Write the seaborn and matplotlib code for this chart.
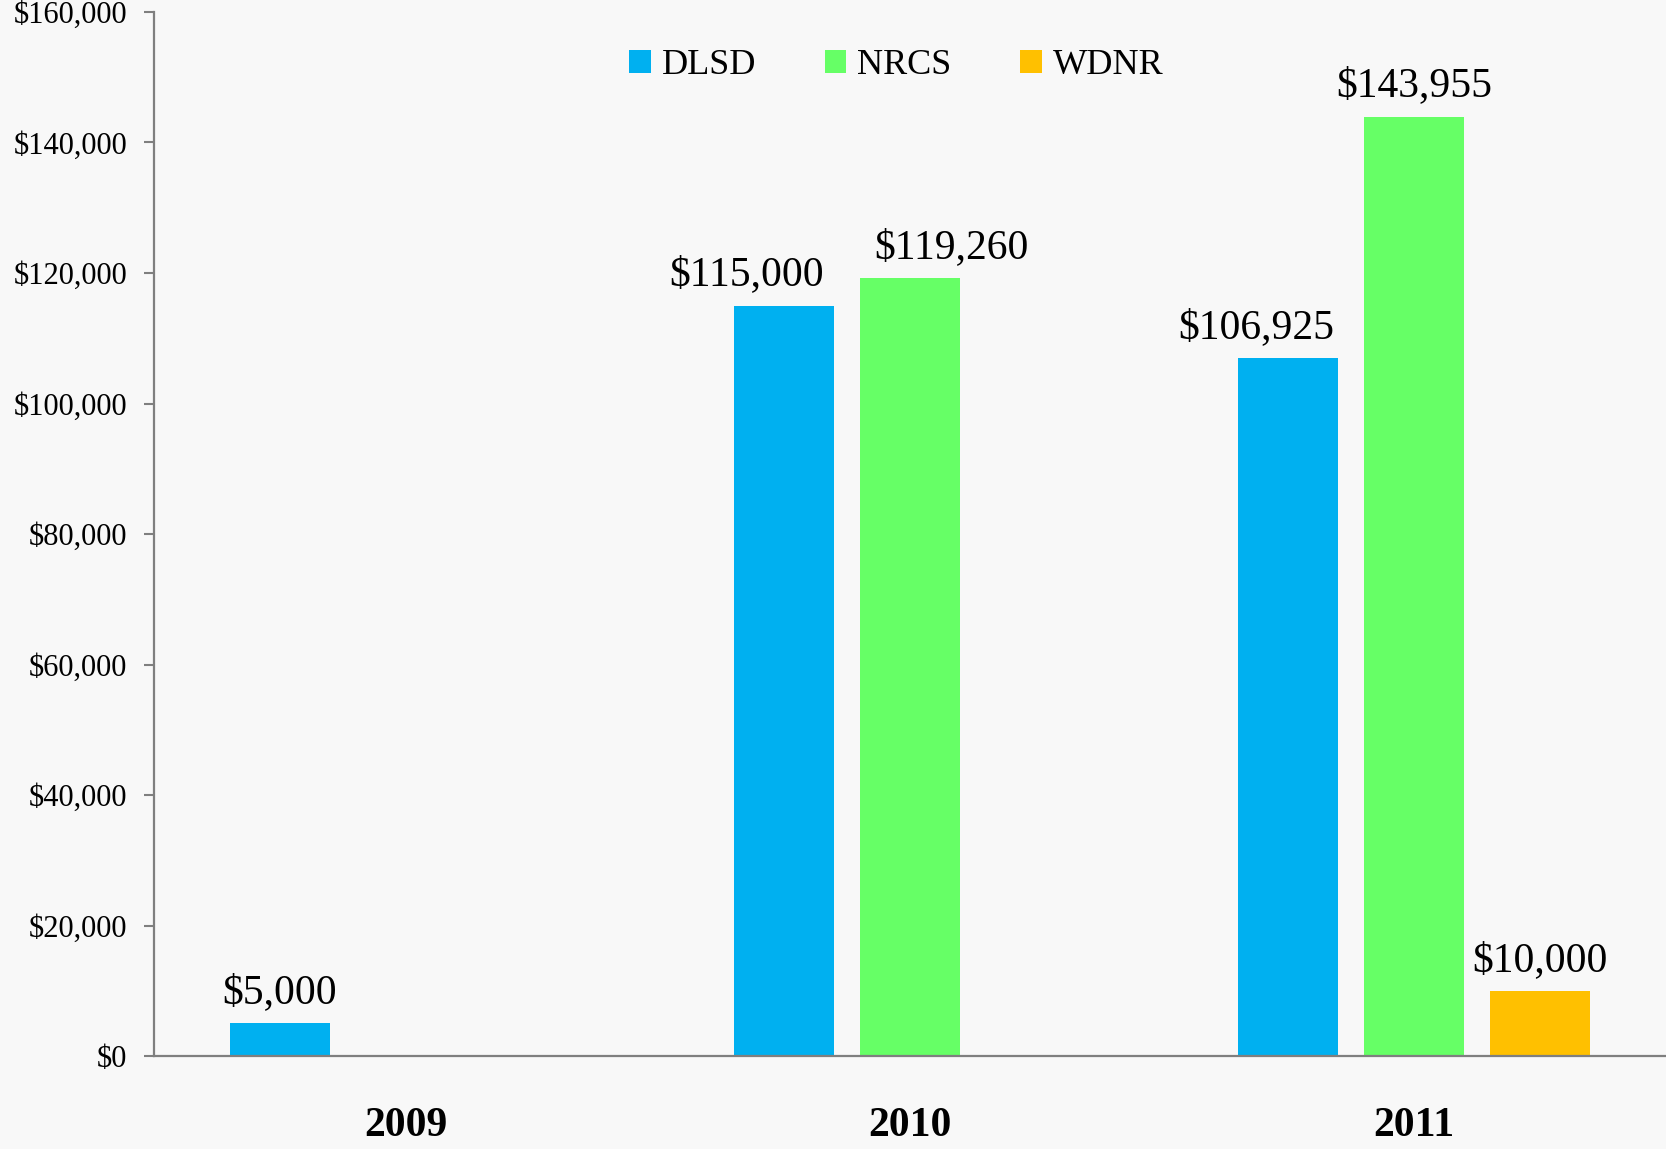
import matplotlib
matplotlib.use("Agg")
import matplotlib.pyplot as plt
from matplotlib.ticker import FuncFormatter
import pandas as pd
import seaborn as sns

# valores
years = ["2009", "2010", "2011"]
agencies = ["DLSD", "NRCS", "WDNR"]
dlsd = [5000, 115000, 106925]
nrcs = [None, 119260, 143955]
wdnr = [None, None, 10000]
colors = {"DLSD": "#00B0F0", "NRCS": "#66FF66", "WDNR": "#FFC000"}

# corrimiento horizontal de etiquetas que se pisan (en puntos)
nudge = {("DLSD", "2010"): -27, ("NRCS", "2010"): 30, ("DLSD", "2011"): -23}

rows = []
for ag, vals in zip(agencies, [dlsd, nrcs, wdnr]):
    for yr, v in zip(years, vals):
        if v is not None:
            rows.append({"year": yr, "agency": ag, "amount": v})
df = pd.DataFrame(rows)

sns.set_style("white")
plt.rcParams["font.family"] = ["Liberation Serif", "DejaVu Serif"]
plt.rcParams["text.color"] = "black"
plt.rcParams["xtick.color"] = "black"
plt.rcParams["ytick.color"] = "black"

fig = plt.figure(figsize=(16.66, 11.49), dpi=100, facecolor="#f8f8f8")
ax = fig.add_axes([154 / 1666, 1 - 1056 / 1149, 1 - 154 / 1666, (1056 - 12) / 1149])
ax.set_facecolor("#f8f8f8")

sns.barplot(data=df, x="year", y="amount", hue="agency", order=years,
            hue_order=agencies, palette=colors, width=0.75, gap=0.2,
            errorbar=None, saturation=1, edgecolor="none", ax=ax)

for cont, ag in zip(ax.containers, agencies):
    for b in cont:
        h = b.get_height()
        if not h or h != h:
            continue
        yr = years[int(round(b.get_x() + b.get_width() / 2))]
        ax.annotate("${:,.0f}".format(h), (b.get_x() + b.get_width() / 2, h),
                    xytext=(nudge.get((ag, yr), 0), 8), textcoords="offset points",
                    ha="center", va="bottom", fontsize=30, color="black")

ax.set_xlim(-0.5, 2.5)
ax.set_ylim(0, 160000)
ax.set_yticks(range(0, 160001, 20000))
ax.yaxis.set_major_formatter(FuncFormatter(lambda v, p: "${:,.0f}".format(v)))
ax.set_xlabel("")
ax.set_ylabel("")

sns.despine(ax=ax)
for s in ["left", "bottom"]:
    ax.spines[s].set_color("#7f7f7f")
    ax.spines[s].set_linewidth(1.6)
ax.tick_params(axis="y", left=True, length=7, width=1.5, color="#7f7f7f",
               labelcolor="black", labelsize=22, pad=12)
ax.tick_params(axis="x", bottom=False, labelcolor="black", labelsize=30, pad=33)
for t in ax.get_xticklabels():
    t.set_fontweight("bold")

handles, labels = ax.get_legend_handles_labels()
ax.legend(handles, labels, loc="center", bbox_to_anchor=(896 / 1666, 1 - 66 / 1149),
          bbox_transform=fig.transFigure, ncol=3, frameon=False, fontsize=26,
          handlelength=0.6, handleheight=0.6, handletextpad=0.3,
          columnspacing=1.9)

fig.savefig("out.png", dpi=100, facecolor=fig.get_facecolor())
